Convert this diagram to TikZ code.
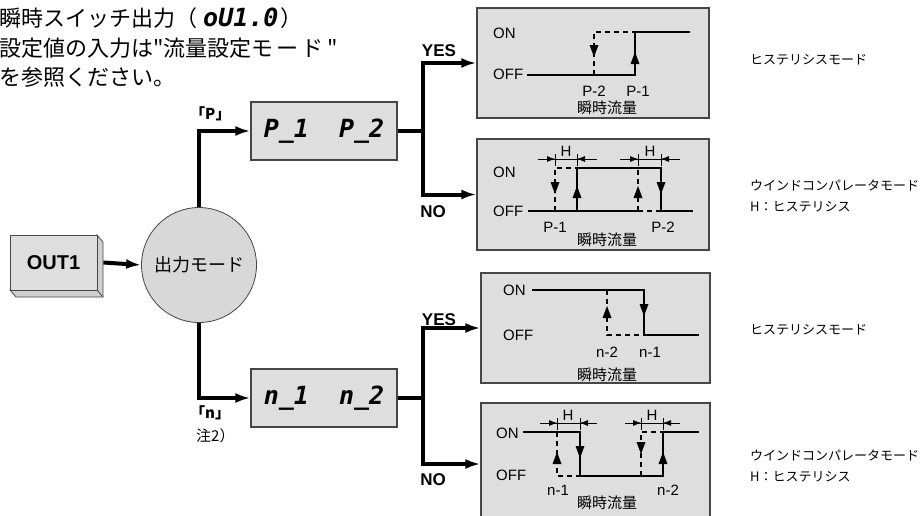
\documentclass[tikz,border=0pt]{standalone}
\usepackage{fontspec}
\setmainfont{Liberation Sans}
\newfontfamily\jp{Noto Sans CJK JP}
\newfontfamily\seg{DejaVu Sans Mono}
\usetikzlibrary{arrows.meta}
\definecolor{boxfill}{RGB}{222,222,222}
\definecolor{boxline}{RGB}{70,70,70}
\definecolor{circfill}{RGB}{216,216,216}
\newcommand\tipdown[2]{\fill (#1-4.5,#2-12) -- (#1+4.5,#2-12) -- (#1,#2) -- cycle;}
\newcommand\tipup[2]{\fill (#1-4.5,#2+12) -- (#1+4.5,#2+12) -- (#1,#2) -- cycle;}
\tikzset{
 conn/.style={line width=4pt, -{Latex[length=15pt,width=10pt]}},
 connline/.style={line width=4pt},
 panel/.style={draw=boxline, fill=boxfill, line width=1.2pt, inner sep=0pt},
 sig/.style={line width=2pt},
 sigdash/.style={line width=2pt, dash pattern=on 5pt off 4pt},
 lbl/.style={font=\fontsize{15}{17}\selectfont, inner sep=0pt},
 jlbl/.style={font=\jp\fontsize{15}{17}\selectfont, inner sep=0pt},
 side/.style={font=\jp\fontsize{13}{15}\selectfont, inner sep=0pt, anchor=west},
 hdim/.style={line width=0.7pt},
 hhead/.style={-{Latex[length=8pt,width=6pt]}, line width=0.7pt},
 yesno/.style={font=\bfseries\fontsize{17}{19}\selectfont, inner sep=0pt},
 segtxt/.style={font=\seg\bfseries\itshape\fontsize{25}{27}\selectfont},
 toptxt/.style={font=\jp\fontsize{22}{24}\selectfont, inner sep=0pt, anchor=west},
 brk/.style={font=\jp\bfseries\fontsize{15}{17}\selectfont, inner sep=0pt, anchor=west},
}
\begin{document}
\begin{tikzpicture}[x=1pt,y=-1pt]
\useasboundingbox (0,0) rectangle (920,515);
% top-left note
\node[toptxt] (t1) at (-1,18) {瞬時スイッチ出力（\kern6pt{\seg\bfseries\itshape\fontsize{25}{27}\selectfont oU1.0}\kern2pt）};
\node[toptxt] (t2) at (-1,48) {設定値の入力は"流量設定モ\kern3pt ー\kern3pt ド\kern4pt"};
\node[toptxt] (t3) at (-1,77) {を参照ください。};
% OUT1 3D box
\draw[draw=boxline, fill=boxfill!85!gray, line width=0.8pt] (97,235) -- (103,242) -- (103,297) -- (16,297) -- (10,290) -- (97,290) -- cycle;
\draw[boxline, line width=0.8pt] (97,290) -- (103,297);
\node[draw=boxline, fill=boxfill, line width=0.8pt, minimum width=87pt, minimum height=55pt, inner sep=0pt, font=\bfseries\fontsize{20}{22}\selectfont] (out) at (53.5,262.5) {OUT1};
% mode circle
\node[circle, draw=boxline, fill=circfill, line width=0.8pt, minimum size=115pt, inner sep=0pt, font=\jp\fontsize{18}{20}\selectfont] (mode) at (199,265) {出力モード};
% setting boxes
\node[panel, minimum width=146pt, minimum height=58pt, segtxt] (pbox) at (324,131) {P\_1\ \ P\_2};
\node[panel, minimum width=146pt, minimum height=58pt, segtxt] (nbox) at (324,398) {n\_1\ \ n\_2};
% result panels
\node[panel, minimum width=232pt, minimum height=110pt] (box1) at (593,63) {};
\node[panel, minimum width=232pt, minimum height=111pt] (box2) at (593,194.5) {};
\node[panel, minimum width=229pt, minimum height=110pt] (box3) at (595.5,328) {};
\begin{scope}
\clip (0,0) rectangle (920,515);
\node[panel, minimum width=229pt, minimum height=122pt] (box4) at (595.5,464) {};
\end{scope}
% connectors
\draw[conn] ([xshift=6pt]out.east) -- (mode.west);
\draw[conn] (mode.north) |- (pbox.west);
\draw[conn] (mode.south) |- (nbox.west);
\coordinate (pj) at (423,131);
\coordinate (nj) at (423,398);
\draw[connline] (pbox.east) -- (pj);
\draw[connline] (nbox.east) -- (nj);
\draw[conn] (pj) |- (box1.west);
\draw[conn] (pj) |- (box2.west);
\draw[conn] (nj) |- (box3.west);
\draw[conn] (nj) |- (box4.west);
% labels
\node[yesno] (y1) at (439,51) {YES};
\node[yesno] (n1) at (433,212) {NO};
\node[yesno] (y2) at (439,320) {YES};
\node[yesno] (n2) at (433,480) {NO};
\node[brk] (lp) at (190,114) {「P」};
\node[brk] (ln) at (190,413) {「n」};
\node[font=\jp\fontsize{15}{17}\selectfont, inner sep=0pt, anchor=west] (note) at (196,436) {注2）};
% box1 plot
\node[lbl, anchor=west] (on1) at (493,33) {ON};
\node[lbl, anchor=west] (off1) at (493,74) {OFF};
\draw[sig] (527,75) -- (635,75) -- (635,32) -- (690,32);
\draw[sigdash] (594,75) -- (594,32) -- (635,32);
\tipup{635}{52}
\tipdown{594}{57}
\node[lbl] (p2a) at (594,91) {P-2};
\node[lbl] (p1a) at (638,91) {P-1};
\node[jlbl] (fa) at (607,108) {瞬時流量};
% box2 plot
\node[lbl, anchor=west] (on2) at (493,172) {ON};
\node[lbl, anchor=west] (off2) at (493,211) {OFF};
\draw[sig] (528,211) -- (638,211);
\draw[sigdash] (638,211) -- (661,211);
\draw[sig] (661,211) -- (693,211);
\draw[sig] (577,211) -- (577,168) -- (661,168) -- (661,211);
\draw[sigdash] (555,211) -- (555,168) -- (577,168);
\draw[sigdash] (638,211) -- (638,168);
\tipdown{555}{194}
\tipup{577}{186}
\tipup{638}{186}
\tipdown{661}{194}
\draw[hdim] (538,159) -- (597,159);
\draw[hdim] (555,154) -- (555,166) (577,154) -- (577,166);
\draw[hhead] (540,159) -- (555,159);
\draw[hhead] (595,159) -- (577,159);
\draw[hdim] (620,159) -- (680,159);
\draw[hdim] (638,154) -- (638,166) (661,154) -- (661,166);
\draw[hhead] (622,159) -- (638,159);
\draw[hhead] (679,159) -- (661,159);
\node[lbl] (h1) at (566,151) {H};
\node[lbl] (h2) at (650,151) {H};
\node[lbl] (p1b) at (555,227) {P-1};
\node[lbl] (p2b) at (663,227) {P-2};
\node[jlbl] (fb) at (607,240) {瞬時流量};
% box3 plot
\node[lbl, anchor=west] (on3) at (503,290) {ON};
\node[lbl, anchor=west] (off3) at (503,335) {OFF};
\draw[sig] (532,290) -- (644,290) -- (644,335) -- (699,335);
\draw[sigdash] (607,290) -- (607,335) -- (644,335);
\tipdown{644}{316}
\tipup{607}{306}
\node[lbl] (n2c) at (607,352) {n-2};
\node[lbl] (n1c) at (650,352) {n-1};
\node[jlbl] (fc) at (607,375) {瞬時流量};
% box4 plot
\node[lbl, anchor=west] (on4) at (496,433) {ON};
\node[lbl, anchor=west] (off4) at (496,475) {OFF};
\draw[sig] (523,432) -- (580,432) -- (580,476) -- (663,476) -- (663,432) -- (699,432);
\draw[sigdash] (557,432) -- (557,476) -- (580,476);
\draw[sigdash] (641,476) -- (641,432) -- (663,432);
\tipdown{580}{458}
\tipup{663}{452}
\tipup{557}{452}
\tipdown{641}{454}
\draw[hdim] (540,423) -- (597,423);
\draw[hdim] (557,418) -- (557,430) (580,418) -- (580,430);
\draw[hhead] (542,423) -- (557,423);
\draw[hhead] (596,423) -- (580,423);
\draw[hdim] (625,423) -- (680,423);
\draw[hdim] (641,418) -- (641,430) (663,418) -- (663,430);
\draw[hhead] (626,423) -- (641,423);
\draw[hhead] (679,423) -- (663,423);
\node[lbl] (h3) at (568,415) {H};
\node[lbl] (h4) at (652,415) {H};
\node[lbl] (n1d) at (558,490) {n-1};
\node[lbl] (n2d) at (668,490) {n-2};
\node[jlbl] (fd) at (607,503) {瞬時流量};
% right-side descriptions
\node[side] (s1) at (750,60) {ヒステリシスモード};
\node[side] (s2) at (750,185) {ウインドコンパレータモード};
\node[side] (s3) at (750,207) {H：ヒステリシス};
\node[side] (s4) at (750,330) {ヒステリシスモード};
\node[side] (s5) at (750,455) {ウインドコンパレータモード};
\node[side] (s6) at (750,477) {H：ヒステリシス};
\end{tikzpicture}
\end{document}
